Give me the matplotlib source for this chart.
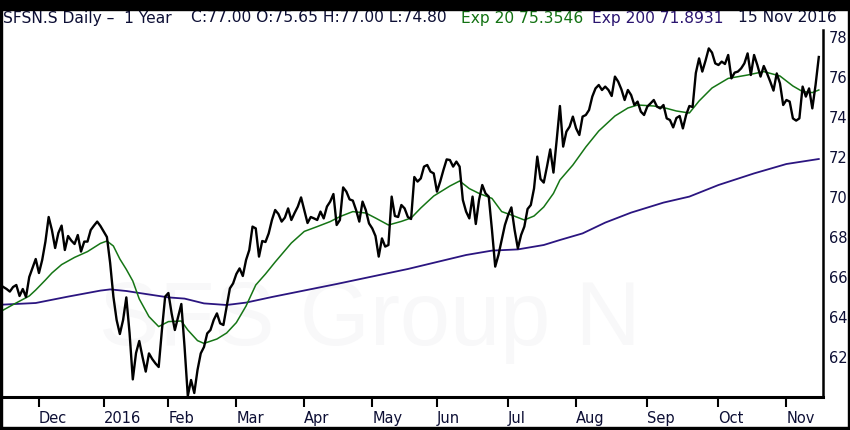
import numpy as np
import pandas as pd
import matplotlib
matplotlib.use("Agg")
import matplotlib.pyplot as plt
from matplotlib.patches import Rectangle

# SFSN.S daily closes, 16 Nov 2015 .. 15 Nov 2016
holidays = ["2015-12-24", "2015-12-25", "2015-12-31", "2016-01-01", "2016-03-25",
            "2016-03-28", "2016-05-05", "2016-05-16", "2016-08-01"]

close = [
    65.5, 65.4, 65.27, 65.5, 65.6, 65.05, 65.4, 65.0, 66.0, 66.45,
    66.9, 66.2, 66.85, 67.77, 69.0, 68.35, 67.45, 68.2, 68.57, 67.35,
    68.05, 67.82, 67.65, 68.1, 67.27, 67.77, 67.77, 68.35, 68.57, 68.77,
    68.55, 68.27, 68.0, 66.7, 65.02, 63.85, 63.15, 63.85, 64.98, 63.2,
    60.88, 62.2, 62.8, 62.0, 61.27, 62.18, 61.9, 61.68, 61.5, 63.35,
    65.02, 65.2, 64.18, 63.35, 64.0, 64.65, 62.5, 60.05, 60.85, 60.2,
    61.35, 62.18, 62.5, 63.18, 63.35, 63.85, 64.18, 63.68, 63.6, 64.52,
    65.43, 65.68, 66.15, 66.43, 66.05, 66.85, 67.35, 68.52, 68.43, 67.02,
    67.8, 67.75, 68.18, 68.85, 69.35, 69.15, 68.77, 68.97, 69.43, 68.85,
    69.2, 69.52, 69.98, 69.35, 68.7, 69.0, 68.93, 68.85, 69.27, 68.93,
    69.52, 69.77, 70.15, 68.6, 68.85, 70.48, 70.27, 69.88, 69.82, 69.35,
    68.77, 69.77, 69.35, 68.68, 68.43, 68.05, 67.02, 67.93, 67.52, 67.6,
    70.02, 69.05, 69.0, 69.6, 69.43, 69.0, 68.9, 71.0, 70.77, 70.93,
    71.52, 71.6, 71.27, 71.18, 70.27, 70.77, 71.35, 71.88, 71.85, 71.52,
    71.77, 71.52, 69.85, 69.27, 68.93, 70.02, 68.65, 69.85, 70.6, 70.18,
    70.02, 68.35, 66.52, 67.1, 67.85, 68.6, 69.1, 69.48, 68.35, 67.43,
    68.1, 68.52, 69.4, 69.6, 70.43, 72.02, 70.9, 70.72, 71.52, 72.38,
    71.22, 72.85, 74.55, 72.52, 73.27, 73.52, 74.02, 73.43, 73.1, 74.02,
    74.1, 74.35, 75.02, 75.43, 75.6, 75.35, 75.52, 75.35, 75.05, 76.02,
    75.77, 75.38, 74.85, 75.35, 75.1, 74.6, 74.77, 74.27, 74.1, 74.52,
    74.68, 74.85, 74.52, 74.43, 74.6, 73.93, 73.85, 73.48, 73.95, 74.05,
    73.43, 74.1, 74.55, 74.5, 76.2, 76.93, 76.27, 76.82, 77.43, 77.22,
    76.68, 76.6, 76.77, 76.65, 77.1, 75.93, 76.22, 76.27, 76.43, 76.68,
    77.18, 76.1, 77.1, 76.6, 76.02, 76.55, 76.18, 75.77, 75.32, 76.18,
    75.68, 74.6, 74.85, 74.77, 73.93, 73.82, 73.93, 75.52, 75.02, 75.43,
    74.43, 75.6, 77.0,
]

# moving averages, sampled along the chart (trading-day number, value)
ema20_day = [0, 3, 8, 10, 13, 15, 18, 22, 26, 30, 32, 34, 36, 38, 40, 42, 45, 48, 51,
             55, 57, 60, 62, 66, 69, 72, 75, 78, 81, 84, 89, 93, 97, 101, 104, 108,
             112, 115, 119, 123, 126, 129, 133, 138, 141, 144, 147, 151, 154, 157,
             161, 164, 167, 170, 172, 176, 180, 184, 189, 193, 196, 201, 205, 208,
             212, 215, 219, 224, 230, 235, 240, 244, 247, 250, 252]
ema20_val = [64.35, 64.62, 65.05, 65.35, 65.85, 66.2, 66.62, 66.98, 67.27, 67.68,
             67.8, 67.55, 66.9, 66.38, 65.8, 64.9, 64.02, 63.52, 63.77, 63.8, 63.35,
             62.82, 62.68, 62.9, 63.2, 63.72, 64.55, 65.6, 66.15, 66.75, 67.7, 68.28,
             68.52, 68.77, 69.02, 69.27, 69.2, 68.95, 68.6, 68.78, 68.95, 69.45,
             70.05, 70.55, 70.8, 70.42, 70.18, 69.93, 69.27, 69.1, 68.85, 69.05,
             69.5, 70.18, 70.85, 71.6, 72.5, 73.3, 74.05, 74.45, 74.6, 74.55, 74.43,
             74.3, 74.2, 74.8, 75.45, 75.93, 76.1, 76.27, 76.05, 75.55, 75.27,
             75.22, 75.35]

ema200_day = [0, 10, 20, 30, 33, 38, 42, 51, 56, 62, 69, 75, 83, 103, 125, 143, 151,
              159, 167, 172, 179, 186, 194, 204, 212, 221, 232, 242, 252]
ema200_val = [64.62, 64.7, 65.02, 65.32, 65.38, 65.3, 65.2, 64.98, 64.92, 64.68, 64.6,
              64.72, 65.0, 65.65, 66.4, 67.1, 67.32, 67.38, 67.6, 67.85, 68.18, 68.72,
              69.22, 69.72, 70.02, 70.6, 71.18, 71.65, 71.9]

y_ticks = [62, 64, 66, 68, 70, 72, 74, 76, 78]

days = pd.bdate_range("2015-11-16", "2016-11-15")
days = days[~days.isin(pd.to_datetime(holidays))]
idx = np.arange(len(days))

# first trading day of each month -> x ticks
month_start = [i for i in idx[1:] if days[i].month != days[i - 1].month]
month_lab = [str(days[i].year) if days[i].month == 1 else days[i].strftime("%b") for i in month_start]

W, H = 850, 430
fig = plt.figure(figsize=(W / 100, H / 100), dpi=100)
fig.patch.set_facecolor("white")
ax = fig.add_axes([1 / W, 33 / H, 822 / W, 367 / H])

txt = "#0d0f35"
# faint watermark
ax.text(0.449, 0.142, "SFS Group N", transform=ax.transAxes, ha="center", va="baseline",
        fontsize=65, family="Liberation Sans", color="#f8f8f9", zorder=0)

ax.plot(ema200_day, ema200_val, color="#2b1580", lw=1.3, zorder=2)
ax.plot(ema20_day, ema20_val, color="#157515", lw=1.1, zorder=3)
ax.plot(idx, close, color="black", lw=1.7, zorder=4)

ax.set_xlim(-0.73, 253.3)
ax.set_ylim(60.0, 78.35)

for s in ["top", "left"]:
    ax.spines[s].set_visible(False)
ax.spines["right"].set_linewidth(1.8)
ax.spines["bottom"].set_linewidth(2.2)

ax.yaxis.tick_right()
ax.set_yticks(y_ticks)
ax.tick_params(axis="y", length=0, pad=4, labelsize=10.5, labelcolor=txt)

ax.set_xticks(month_start)
ax.set_xticklabels(month_lab, ha="left")
ax.tick_params(axis="x", length=7, width=1.5, direction="out", pad=3,
               labelsize=10.5, labelcolor=txt)

# title line, each piece at its own spot
parts = [(3, "SFSN.S Daily \u2013  1 Year", txt),
         (191, "C:77.00 O:75.65 H:77.00 L:74.80", txt),
         (461, "Exp 20 75.3546", "#137213"),
         (592, "Exp 200 71.8931", "#2b1570"),
         (738, "15 Nov 2016", txt)]
for px, s, c in parts:
    fig.text(px / W, 1 - 18 / H, s, color=c, fontsize=11.2, va="center", ha="left")

# black frame around the picture
fig.add_artist(Rectangle((0, 1 - 10 / H), 1, 10 / H, transform=fig.transFigure,
                         color="black", zorder=10))
fig.add_artist(Rectangle((0, 0), 1, 3 / H, transform=fig.transFigure, color="black", zorder=10))
fig.add_artist(Rectangle((0, 0), 2 / W, 1, transform=fig.transFigure, color="black", zorder=10))
fig.add_artist(Rectangle((1 - 2 / W, 0), 2 / W, 1, transform=fig.transFigure, color="black", zorder=10))

fig.savefig("out.png", dpi=100)
